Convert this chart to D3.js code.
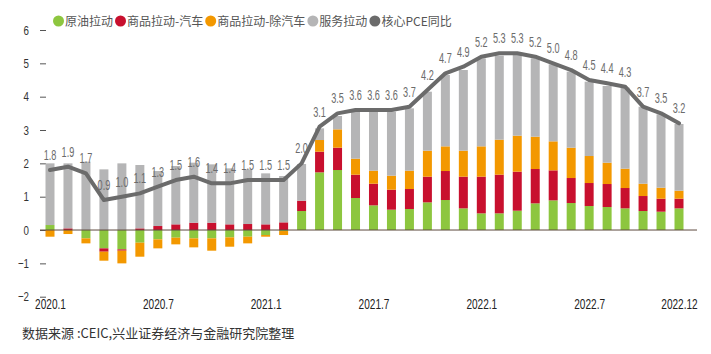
<!DOCTYPE html>
<html>
<head>
<meta charset="utf-8">
<script src="https://cdn.jsdelivr.net/npm/d3@7"></script>
<style>
  body { margin: 0; background: #fff; }
</style>
</head>
<body>
<div class="chart"></div>
<script>
// months on the x axis
var months = [
    "2020.1","2020.2","2020.3","2020.4","2020.5","2020.6","2020.7","2020.8","2020.9","2020.10","2020.11","2020.12",
    "2021.1","2021.2","2021.3","2021.4","2021.5","2021.6","2021.7","2021.8","2021.9","2021.10","2021.11","2021.12",
    "2022.1","2022.2","2022.3","2022.4","2022.5","2022.6","2022.7","2022.8","2022.9","2022.10","2022.11","2022.12"
];
var xTickLabels = ["2020.1","2020.7","2021.1","2021.7","2022.1","2022.7","2022.12"];
var yTickValues = [-2,-1,0,1,2,3,4,5,6];

// contributions (percentage points)
var oil = [0.15,0,-0.25,-0.55,-0.58,-0.38,-0.28,-0.23,-0.25,-0.25,-0.22,-0.2,
           -0.15,-0.03,0.57,1.73,1.8,0.96,0.74,0.61,0.63,0.83,0.9,0.65,
           0.5,0.5,0.58,0.8,0.89,0.81,0.72,0.69,0.65,0.57,0.55,0.65];
var autoGoods = [0,0.05,0,-0.1,-0.04,0.05,0.12,0.17,0.22,0.22,0.17,0.18,
                 0.17,0.23,0.31,0.62,0.67,0.7,0.65,0.6,0.6,0.77,0.87,0.95,
                 1.1,1.16,1.17,1.03,0.9,0.75,0.69,0.69,0.61,0.45,0.39,0.29];
var goodsExAuto = [-0.2,-0.12,-0.15,-0.27,-0.38,-0.42,-0.27,-0.2,-0.27,-0.37,-0.28,-0.2,
                   -0.05,-0.12,0,0.35,0.55,0.48,0.39,0.42,0.55,0.78,0.74,0.78,
                   0.91,1.05,1.08,0.97,0.87,0.91,0.81,0.64,0.58,0.37,0.33,0.24];
var services = [1.85,1.95,2.05,1.82,2.0,1.9,1.65,1.75,1.8,1.75,1.68,1.64,
                1.53,1.39,1.1,0.35,0.4,1.41,1.77,1.92,1.87,1.77,2.14,2.42,
                2.64,2.52,2.44,2.35,2.31,2.28,2.23,2.3,2.43,2.31,2.2,2.0];
// core PCE yoy
var corePCE = [1.8,1.9,1.7,0.9,1.0,1.1,1.3,1.5,1.6,1.4,1.4,1.5,
               1.5,1.5,2.0,3.1,3.5,3.6,3.6,3.6,3.7,4.2,4.7,4.9,
               5.2,5.3,5.3,5.2,5.0,4.8,4.5,4.4,4.3,3.7,3.5,3.2];

var seriesKeys = ["oil","autoGoods","goodsExAuto","services"];
var seriesNames = ["原油拉动","商品拉动-汽车","商品拉动-除汽车","服务拉动"];
var seriesColors = ["#8dc63f","#c8102e","#f39800","#b5b5b6"];
var lineName = "核心PCE同比";
var lineColor = "#6b6b6b";

function init() {
    var w = 711;
    var h = 354;
    var numFont = "'Liberation Sans', Arial, sans-serif";
    var cjkFont = "'Noto Sans CJK SC', sans-serif";

    var svg = d3.select(".chart")
        .append("svg")
        .attr("width", w)
        .attr("height", h);

    // build rows for the stack
    var rows = months.map(function(m, i) {
        return {
            month: m,
            oil: oil[i],
            autoGoods: autoGoods[i],
            goodsExAuto: goodsExAuto[i],
            services: services[i]
        };
    });

    var stacked = d3.stack()
        .keys(seriesKeys)
        .offset(d3.stackOffsetDiverging)(rows);

    var xScale = d3.scalePoint()
        .domain(months)
        .range([50, 679]);

    var yScale = d3.scaleLinear()
        .domain([-2, 6])
        .range([296.7, 30]);

    var barW = 9;

    // y axis (ticks only, no domain line)
    var ySqueeze = 0.75;
    var yAxis = d3.axisLeft(yScale)
        .tickValues(yTickValues)
        .tickSize(6)
        .tickPadding(11)
        .tickFormat(d3.format("d"));

    var gy = svg.append("g")
        .attr("transform", "translate(46,0)")
        .call(yAxis);
    gy.select(".domain").remove();
    gy.selectAll(".tick line").attr("stroke", "#555");
    gy.selectAll(".tick text")
        .style("font-family", numFont)
        .style("font-size", "13px")
        .attr("fill", "#333")
        .attr("x", -17 / ySqueeze)
        .attr("transform", "scale(" + ySqueeze + ",1)");

    // stacked bars
    svg.selectAll(".series")
        .data(stacked)
        .enter().append("g")
        .attr("class", "series")
        .attr("fill", function(d, i) { return seriesColors[i]; })
        .selectAll("rect")
        .data(function(d) { return d; })
        .enter().append("rect")
        .attr("x", function(d) { return xScale(d.data.month) - barW / 2; })
        .attr("y", function(d) { return yScale(Math.max(d[0], d[1])); })
        .attr("width", barW)
        .attr("height", function(d) { return Math.abs(yScale(d[0]) - yScale(d[1])); });

    // zero line
    svg.append("line")
        .attr("x1", 40)
        .attr("x2", 697)
        .attr("y1", yScale(0))
        .attr("y2", yScale(0))
        .attr("stroke", "#5e4a3e")
        .attr("stroke-width", 1);

    // core PCE line
    var line = d3.line()
        .x(function(d, i) { return xScale(months[i]); })
        .y(function(d) { return yScale(d); });

    svg.append("path")
        .datum(corePCE)
        .attr("d", line)
        .attr("fill", "none")
        .attr("stroke", lineColor)
        .attr("stroke-width", 4)
        .attr("stroke-linejoin", "round")
        .attr("stroke-linecap", "round");

    // value labels (condensed look)
    var vSqueeze = 0.63;
    svg.selectAll(".val")
        .data(corePCE)
        .enter().append("text")
        .attr("class", "val")
        .attr("transform", function(d, i) {
            return "translate(" + xScale(months[i]) + "," + (yScale(d) - 10) + ") scale(" + vSqueeze + ",1)";
        })
        .attr("text-anchor", "middle")
        .style("font-family", numFont)
        .style("font-size", "14.5px")
        .attr("fill", "#6b6b6b")
        .text(function(d) { return d3.format(".1f")(d); });

    // x axis labels
    var xSqueeze = 0.72;
    var xAxis = d3.axisBottom(xScale)
        .tickValues(xTickLabels)
        .tickSize(0)
        .tickPadding(3);

    var gx = svg.append("g")
        .attr("transform", "translate(0,296)")
        .call(xAxis);
    gx.select(".domain").remove();
    gx.selectAll(".tick text")
        .style("font-family", numFont)
        .style("font-size", "14px")
        .attr("fill", "#222")
        .attr("transform", "scale(" + xSqueeze + ",1)");

    // legend
    var legendItems = seriesNames.map(function(n, i) {
        return { name: n, color: seriesColors[i] };
    });
    legendItems.push({ name: lineName, color: lineColor });

    var lx = 53;
    var ly = 21;
    legendItems.forEach(function(item) {
        svg.append("circle")
            .attr("cx", lx + 5.5)
            .attr("cy", ly)
            .attr("r", 5.5)
            .attr("fill", item.color);
        var t = svg.append("text")
            .attr("x", lx + 12)
            .attr("y", ly + 4.5)
            .style("font-family", cjkFont)
            .style("font-size", "12px")
            .attr("fill", "#555")
            .text(item.name);
        lx = lx + 12 + t.node().getComputedTextLength() + 2;
    });

    // source note
    svg.append("text")
        .attr("x", 22)
        .attr("y", 338)
        .style("font-family", cjkFont)
        .style("font-size", "13px")
        .attr("fill", "#333")
        .text("数据来源 :CEIC,兴业证券经济与金融研究院整理");
}

window.onload = init;
</script>
</body>
</html>
